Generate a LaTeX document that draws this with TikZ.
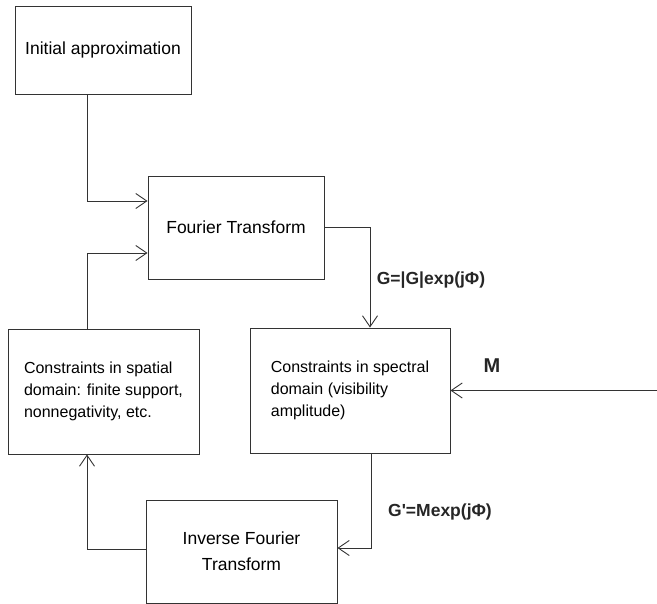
\documentclass[tikz,border=0pt]{standalone}
\usepackage{fontspec}
\setmainfont{Liberation Sans}
\newfontfamily\lblfont{Liberation Sans}[Ligatures=ResetAll]
\usetikzlibrary{arrows.meta}

\begin{document}
\begin{tikzpicture}[x=1pt, y=-1pt,
  box/.style={draw=black!80, line width=0.9pt, inner sep=0pt},
  flow/.style={draw=black!80, line width=0.9pt, -{Straight Barb[length=11pt,width=15pt]}},
  lbl/.style={font=\lblfont\fontsize{17.5}{20}\selectfont\bfseries, text=black!85}]
\useasboundingbox (0,0) rectangle (657,604);
\node[box, minimum width=176pt, minimum height=88pt, font=\fontsize{17.5}{21}\selectfont] (init) at (103,50) {Initial approximation};
\node[box, minimum width=176pt, minimum height=103pt, font=\fontsize{17.5}{21}\selectfont] (ft) at (236,227.5) {Fourier Transform};
\node[box, minimum width=191pt, minimum height=125pt, align=left, font=\fontsize{16}{22}\selectfont] (spatial) at (103.5,391.5) {Constraints in spatial\\domain: finite support,\\nonnegativity, etc.};
\node[box, minimum width=200pt, minimum height=125pt, align=left, font=\fontsize{16}{22}\selectfont] (spectral) at (350,390.5) {Constraints in spectral\\domain (visibility\\amplitude)};
\node[box, minimum width=191pt, minimum height=103pt, align=center, font=\fontsize{17.5}{26}\selectfont] (inverse) at (241.5,551.5) {Inverse Fourier\\Transform};
% labels
\node[lbl] (gphase) at (431,280) {G=|G|exp(jΦ)};
\node[lbl] (gnew) at (440,512) {G'=Mexp(jΦ)};
\node[lbl, font=\lblfont\fontsize{20}{22}\selectfont\bfseries] (mod) at (492,366) {M};
% connectors
\coordinate (loopx) at (87,0);
\coordinate (min) at (657,390.5);
\draw[flow] (init.south -| loopx) |- ([yshift=26.5pt]ft.west);
\draw[flow] (spatial.north -| loopx) |- ([yshift=-25.5pt]ft.west);
\draw[flow] (ft.east) -| ([xshift=20pt]spectral.north);
\draw[flow] (min) -- (spectral.east);
\draw[flow] ([xshift=21pt]spectral.south) |- ([yshift=3.5pt]inverse.east);
\draw[flow] ([yshift=2.5pt]inverse.west) -| (spatial.south -| loopx);
\end{tikzpicture}
\end{document}
